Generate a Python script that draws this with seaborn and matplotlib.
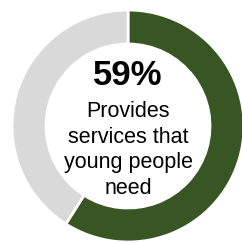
import matplotlib
matplotlib.use("Agg")
import matplotlib.pyplot as plt
import seaborn as sns

sns.set_theme(style="white")
plt.rcParams['font.family'] = ['Liberation Sans', 'DejaVu Sans']

labels = ["Provides services that young people need", "Other"]
values = [59, 41]
colors = ["#375623", "#D9D9D9"]
pct_label = "59%"
caption_lines = ["Provides", "services that", "young people", "need"]

W, H = 242, 243
fig = plt.figure(figsize=(W / 100, H / 100), dpi=100)
ax = fig.add_axes([0, 0, 1, 1])
R = 116.0
cx, cy = 128.0, 126.0
ax.pie(values, colors=colors, startangle=90, counterclock=False, radius=1.0,
       wedgeprops=dict(width=34 / R, edgecolor="white", linewidth=2))
ax.set_xlim(-cx / R, (W - cx) / R)
ax.set_ylim(-(H - cy) / R, cy / R)
ax.set_aspect("equal")
ax.axis("off")

ax.text(0, (cy - 85) / R, pct_label, ha="center", va="baseline",
        fontsize=25, fontweight="bold", color="black")
ys = [117, 143, 168, 194]
for line, y in zip(caption_lines, ys):
    ax.text(0, (cy - y) / R, line, ha="center", va="baseline",
            fontsize=15.5, color="black")

fig.savefig("out.png", dpi=100, facecolor="white")
